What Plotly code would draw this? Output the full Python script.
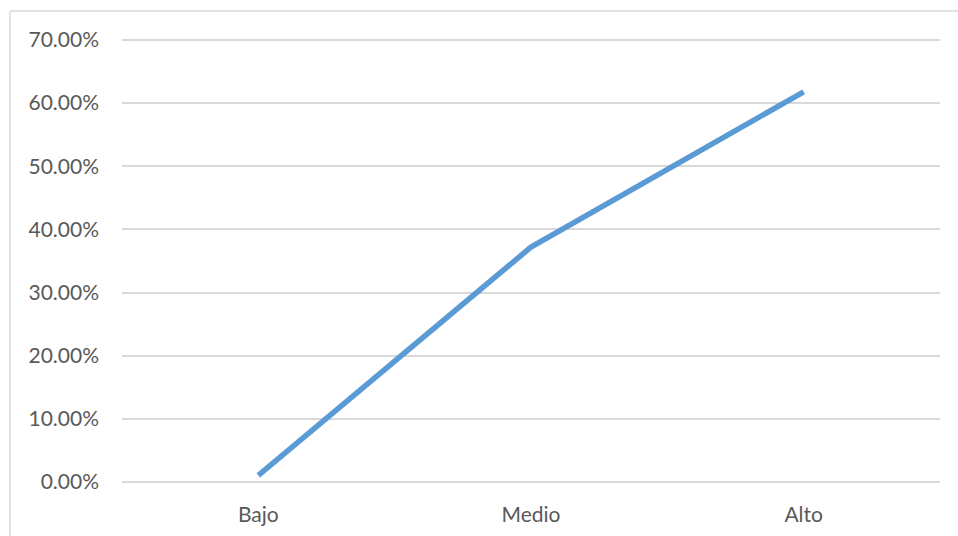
import plotly.graph_objects as go

categories = ["Bajo", "Medio", "Alto"]
values = [0.0106, 0.372, 0.618]
y_ticks = [0, 0.1, 0.2, 0.3, 0.4, 0.5, 0.6, 0.7]
y_tick_labels = ["0.00%", "10.00%", "20.00%", "30.00%", "40.00%", "50.00%", "60.00%", "70.00%"]

W, H = 958, 536
PAD = 5
L, R, T, B = 122, 18, 40 - PAD, 54 - PAD
pw, ph = W - L - R, H - T - B
ext = 0.7 / (ph - 2 * PAD) * PAD

def px_x(x):
    return (x - L) / pw

def px_y(y):
    return (H - B - y) / ph

fig = go.Figure()
fig.add_trace(go.Scatter(
    x=categories, y=values, mode="lines",
    line=dict(color="#5b9bd5", width=5.5, shape="linear"),
    hoverinfo="skip", showlegend=False,
))

fig.update_layout(
    width=W, height=H,
    margin=dict(l=L, r=R, t=T, b=B, pad=0, autoexpand=False),
    paper_bgcolor="white", plot_bgcolor="white",
    font=dict(family="Lato, Carlito, sans-serif", size=21, color="#595959"),
    xaxis=dict(
        type="category", showgrid=False, zeroline=False, showline=False,
        ticks="", ticklabelstandoff=13, range=[-0.5, 2.5], fixedrange=True,
        automargin=False,
    ),
    yaxis=dict(
        range=[-ext, 0.7 + ext], tickvals=y_ticks, ticktext=y_tick_labels,
        showgrid=True, gridcolor="#d9d9d9", gridwidth=1.5,
        zeroline=False, showline=False, ticks="", ticklabelstandoff=22,
        fixedrange=True, automargin=False,
    ),
    shapes=[
        dict(type="line", xref="paper", yref="paper",
             x0=px_x(10), x1=px_x(958), y0=px_y(11), y1=px_y(11),
             line=dict(color="#d9d9d9", width=1.5)),
        dict(type="line", xref="paper", yref="paper",
             x0=px_x(10), x1=px_x(10), y0=px_y(11), y1=px_y(540),
             line=dict(color="#d9d9d9", width=1.5)),
    ],
)

fig.write_html("out.html")
